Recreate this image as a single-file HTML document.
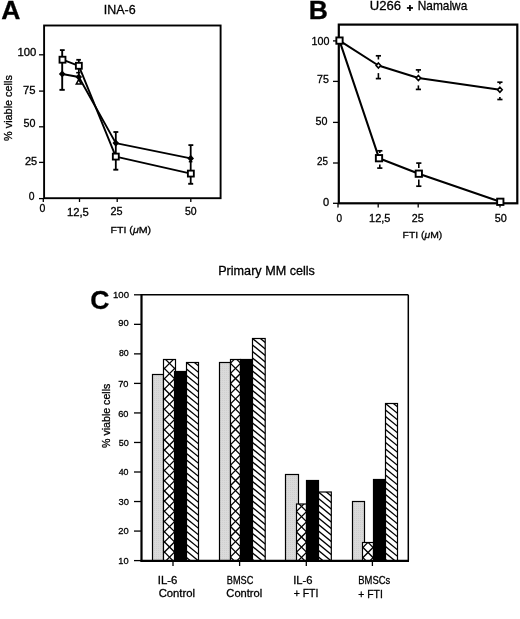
<!DOCTYPE html><html><head><meta charset="utf-8"><style>html,body{margin:0;padding:0;background:#fff;width:520px;height:619px;overflow:hidden}svg{display:block;filter:grayscale(1)}text{font-family:"Liberation Sans", sans-serif;fill:#000;stroke:#000;stroke-width:0.3px}</style></head><body>
<svg width="520" height="619" viewBox="0 0 520 619">
<rect x="0" y="0" width="520" height="619" fill="#fff"/>
<rect x="44.1" y="25.5" width="176.50" height="172.70" fill="none" stroke="#000" stroke-width="1.9"/>
<line x1="39.00" y1="54.80" x2="44.10" y2="54.80" stroke="#000" stroke-width="1.3"/>
<line x1="39.00" y1="91.10" x2="44.10" y2="91.10" stroke="#000" stroke-width="1.3"/>
<line x1="39.00" y1="126.80" x2="44.10" y2="126.80" stroke="#000" stroke-width="1.3"/>
<line x1="39.00" y1="162.40" x2="44.10" y2="162.40" stroke="#000" stroke-width="1.3"/>
<line x1="39.00" y1="198.60" x2="44.10" y2="198.60" stroke="#000" stroke-width="1.3"/>
<line x1="43.30" y1="198.20" x2="43.30" y2="202.00" stroke="#000" stroke-width="1.3"/>
<line x1="79.50" y1="198.20" x2="79.50" y2="202.00" stroke="#000" stroke-width="1.3"/>
<line x1="117.20" y1="198.20" x2="117.20" y2="202.00" stroke="#000" stroke-width="1.3"/>
<line x1="190.80" y1="198.20" x2="190.80" y2="202.00" stroke="#000" stroke-width="1.3"/>
<line x1="62.20" y1="50.10" x2="62.20" y2="89.80" stroke="#000" stroke-width="1.9"/>
<line x1="59.90" y1="50.10" x2="64.70" y2="50.10" stroke="#000" stroke-width="1.8"/>
<line x1="59.45" y1="89.85" x2="64.75" y2="89.85" stroke="#000" stroke-width="1.9"/>
<line x1="78.80" y1="59.80" x2="78.80" y2="83.80" stroke="#000" stroke-width="1.7"/>
<line x1="76.30" y1="59.80" x2="80.90" y2="59.80" stroke="#000" stroke-width="1.8"/>
<line x1="76.20" y1="72.70" x2="80.40" y2="72.70" stroke="#000" stroke-width="1.6"/>
<polygon points="78.7,79.6 81.2,83.9 76.3,83.9" fill="#fff" stroke="#000" stroke-width="1.5"/>
<line x1="115.80" y1="132.00" x2="115.80" y2="169.70" stroke="#000" stroke-width="1.8"/>
<line x1="113.40" y1="132.00" x2="118.30" y2="132.00" stroke="#000" stroke-width="1.8"/>
<line x1="113.30" y1="169.70" x2="118.30" y2="169.70" stroke="#000" stroke-width="1.9"/>
<line x1="190.70" y1="145.10" x2="190.70" y2="183.80" stroke="#000" stroke-width="1.8"/>
<line x1="188.40" y1="145.10" x2="193.30" y2="145.10" stroke="#000" stroke-width="1.8"/>
<line x1="188.20" y1="183.80" x2="193.20" y2="183.80" stroke="#000" stroke-width="1.9"/>
<line x1="188.80" y1="161.70" x2="192.40" y2="161.70" stroke="#000" stroke-width="1.5"/>
<polyline points="62.2,74.0 78.8,77.0 115.8,143.1 190.7,158.4" fill="none" stroke="#000" stroke-width="1.9" stroke-linejoin="round"/>
<polyline points="62.5,59.7 78.85,65.8 115.8,156.6 190.85,173.6" fill="none" stroke="#000" stroke-width="1.9" stroke-linejoin="round"/>
<polygon points="62.2,70.4 65.5,74.0 62.2,77.6 58.900000000000006,74.0" fill="#000"/>
<polygon points="78.8,73.4 82.1,77.0 78.8,80.6 75.5,77.0" fill="#000"/>
<polygon points="115.8,139.5 119.1,143.1 115.8,146.7 112.5,143.1" fill="#000"/>
<polygon points="190.7,154.8 194.0,158.4 190.7,162.0 187.39999999999998,158.4" fill="#000"/>
<rect x="59.52" y="56.73" width="5.95" height="5.95" fill="#fff" stroke="#000" stroke-width="1.85"/>
<rect x="75.88" y="62.82" width="5.95" height="5.95" fill="#fff" stroke="#000" stroke-width="1.85"/>
<rect x="112.83" y="153.62" width="5.95" height="5.95" fill="#fff" stroke="#000" stroke-width="1.85"/>
<rect x="187.88" y="170.62" width="5.95" height="5.95" fill="#fff" stroke="#000" stroke-width="1.85"/>
<rect x="338.8" y="24.6" width="178.50" height="178.70" fill="none" stroke="#000" stroke-width="2.2"/>
<line x1="333.00" y1="40.90" x2="338.80" y2="40.90" stroke="#000" stroke-width="1.3"/>
<line x1="333.00" y1="81.40" x2="338.80" y2="81.40" stroke="#000" stroke-width="1.3"/>
<line x1="333.00" y1="122.40" x2="338.80" y2="122.40" stroke="#000" stroke-width="1.3"/>
<line x1="333.00" y1="163.00" x2="338.80" y2="163.00" stroke="#000" stroke-width="1.3"/>
<line x1="333.00" y1="203.30" x2="338.80" y2="203.30" stroke="#000" stroke-width="1.3"/>
<line x1="338.00" y1="203.30" x2="338.00" y2="207.60" stroke="#000" stroke-width="1.3"/>
<line x1="378.20" y1="203.30" x2="378.20" y2="207.60" stroke="#000" stroke-width="1.3"/>
<line x1="418.20" y1="203.30" x2="418.20" y2="207.60" stroke="#000" stroke-width="1.3"/>
<line x1="500.00" y1="203.30" x2="500.00" y2="207.60" stroke="#000" stroke-width="1.3"/>
<line x1="378.40" y1="55.80" x2="378.40" y2="59.50" stroke="#000" stroke-width="1.6"/>
<line x1="375.80" y1="55.80" x2="381.00" y2="55.80" stroke="#000" stroke-width="1.7"/>
<line x1="378.40" y1="73.10" x2="378.40" y2="78.60" stroke="#000" stroke-width="1.6"/>
<line x1="375.80" y1="78.60" x2="381.00" y2="78.60" stroke="#000" stroke-width="1.7"/>
<line x1="418.40" y1="69.90" x2="418.40" y2="72.70" stroke="#000" stroke-width="1.6"/>
<line x1="415.80" y1="69.90" x2="421.00" y2="69.90" stroke="#000" stroke-width="1.7"/>
<line x1="418.40" y1="85.40" x2="418.40" y2="89.40" stroke="#000" stroke-width="1.6"/>
<line x1="415.80" y1="89.40" x2="421.00" y2="89.40" stroke="#000" stroke-width="1.7"/>
<line x1="499.90" y1="82.20" x2="499.90" y2="84.30" stroke="#000" stroke-width="1.6"/>
<line x1="497.30" y1="82.20" x2="502.50" y2="82.20" stroke="#000" stroke-width="1.7"/>
<line x1="499.90" y1="97.10" x2="499.90" y2="99.50" stroke="#000" stroke-width="1.6"/>
<line x1="497.30" y1="99.50" x2="502.50" y2="99.50" stroke="#000" stroke-width="1.7"/>
<line x1="379.80" y1="150.80" x2="379.80" y2="153.00" stroke="#000" stroke-width="1.6"/>
<line x1="377.20" y1="150.80" x2="382.40" y2="150.80" stroke="#000" stroke-width="1.7"/>
<line x1="379.80" y1="164.50" x2="379.80" y2="168.10" stroke="#000" stroke-width="1.6"/>
<line x1="377.20" y1="168.10" x2="382.40" y2="168.10" stroke="#000" stroke-width="1.7"/>
<line x1="418.80" y1="163.10" x2="418.80" y2="168.00" stroke="#000" stroke-width="1.6"/>
<line x1="416.20" y1="163.10" x2="421.40" y2="163.10" stroke="#000" stroke-width="1.7"/>
<line x1="418.80" y1="179.50" x2="418.80" y2="186.20" stroke="#000" stroke-width="1.6"/>
<line x1="416.20" y1="186.20" x2="421.40" y2="186.20" stroke="#000" stroke-width="1.7"/>
<polyline points="339.5,40.6 378.4,65.5 418.4,78.0 499.9,89.7" fill="none" stroke="#000" stroke-width="2.05" stroke-linejoin="round"/>
<polyline points="339.5,40.6 379.0,158.2 418.8,173.7 500.3,201.8" fill="none" stroke="#000" stroke-width="2.05" stroke-linejoin="round"/>
<polygon points="378.4,63.0 380.7,65.5 378.4,68.0 376.09999999999997,65.5" fill="#fff" stroke="#000" stroke-width="1.6"/>
<polygon points="418.4,75.5 420.7,78.0 418.4,80.5 416.09999999999997,78.0" fill="#fff" stroke="#000" stroke-width="1.6"/>
<polygon points="499.9,87.2 502.2,89.7 499.9,92.2 497.59999999999997,89.7" fill="#fff" stroke="#000" stroke-width="1.6"/>
<rect x="336.35" y="37.45" width="6.30" height="6.30" fill="#fff" stroke="#000" stroke-width="1.9"/>
<rect x="375.85" y="155.05" width="6.30" height="6.30" fill="#fff" stroke="#000" stroke-width="1.9"/>
<rect x="415.65" y="170.55" width="6.30" height="6.30" fill="#fff" stroke="#000" stroke-width="1.9"/>
<rect x="497.15" y="198.65" width="6.30" height="6.30" fill="#fff" stroke="#000" stroke-width="1.9"/>
<defs>
<pattern id="stip" patternUnits="userSpaceOnUse" width="2" height="2"><rect width="2" height="2" fill="#dadada"/><rect width="1" height="1" fill="#cfcfcf"/></pattern>
</defs>
<rect x="152.5" y="374.5" width="11.00" height="186.30" fill="url(#stip)"/>
<rect x="152.5" y="374.5" width="11.00" height="186.30" fill="none" stroke="#000" stroke-width="1.2"/>
<clipPath id="c1"><rect x="163.5" y="359.5" width="12.00" height="201.30"/></clipPath>
<rect x="163.5" y="359.5" width="12.00" height="201.30" fill="#fff"/>
<g clip-path="url(#c1)" stroke="#000" stroke-width="1.25">
<line x1="148.5" y1="311.80" x2="190.5" y2="353.80"/>
<line x1="148.5" y1="353.80" x2="190.5" y2="311.80"/>
<line x1="148.5" y1="322.00" x2="190.5" y2="364.00"/>
<line x1="148.5" y1="364.00" x2="190.5" y2="322.00"/>
<line x1="148.5" y1="332.20" x2="190.5" y2="374.20"/>
<line x1="148.5" y1="374.20" x2="190.5" y2="332.20"/>
<line x1="148.5" y1="342.40" x2="190.5" y2="384.40"/>
<line x1="148.5" y1="384.40" x2="190.5" y2="342.40"/>
<line x1="148.5" y1="352.60" x2="190.5" y2="394.60"/>
<line x1="148.5" y1="394.60" x2="190.5" y2="352.60"/>
<line x1="148.5" y1="362.80" x2="190.5" y2="404.80"/>
<line x1="148.5" y1="404.80" x2="190.5" y2="362.80"/>
<line x1="148.5" y1="373.00" x2="190.5" y2="415.00"/>
<line x1="148.5" y1="415.00" x2="190.5" y2="373.00"/>
<line x1="148.5" y1="383.20" x2="190.5" y2="425.20"/>
<line x1="148.5" y1="425.20" x2="190.5" y2="383.20"/>
<line x1="148.5" y1="393.40" x2="190.5" y2="435.40"/>
<line x1="148.5" y1="435.40" x2="190.5" y2="393.40"/>
<line x1="148.5" y1="403.60" x2="190.5" y2="445.60"/>
<line x1="148.5" y1="445.60" x2="190.5" y2="403.60"/>
<line x1="148.5" y1="413.80" x2="190.5" y2="455.80"/>
<line x1="148.5" y1="455.80" x2="190.5" y2="413.80"/>
<line x1="148.5" y1="424.00" x2="190.5" y2="466.00"/>
<line x1="148.5" y1="466.00" x2="190.5" y2="424.00"/>
<line x1="148.5" y1="434.20" x2="190.5" y2="476.20"/>
<line x1="148.5" y1="476.20" x2="190.5" y2="434.20"/>
<line x1="148.5" y1="444.40" x2="190.5" y2="486.40"/>
<line x1="148.5" y1="486.40" x2="190.5" y2="444.40"/>
<line x1="148.5" y1="454.60" x2="190.5" y2="496.60"/>
<line x1="148.5" y1="496.60" x2="190.5" y2="454.60"/>
<line x1="148.5" y1="464.80" x2="190.5" y2="506.80"/>
<line x1="148.5" y1="506.80" x2="190.5" y2="464.80"/>
<line x1="148.5" y1="475.00" x2="190.5" y2="517.00"/>
<line x1="148.5" y1="517.00" x2="190.5" y2="475.00"/>
<line x1="148.5" y1="485.20" x2="190.5" y2="527.20"/>
<line x1="148.5" y1="527.20" x2="190.5" y2="485.20"/>
<line x1="148.5" y1="495.40" x2="190.5" y2="537.40"/>
<line x1="148.5" y1="537.40" x2="190.5" y2="495.40"/>
<line x1="148.5" y1="505.60" x2="190.5" y2="547.60"/>
<line x1="148.5" y1="547.60" x2="190.5" y2="505.60"/>
<line x1="148.5" y1="515.80" x2="190.5" y2="557.80"/>
<line x1="148.5" y1="557.80" x2="190.5" y2="515.80"/>
<line x1="148.5" y1="526.00" x2="190.5" y2="568.00"/>
<line x1="148.5" y1="568.00" x2="190.5" y2="526.00"/>
<line x1="148.5" y1="536.20" x2="190.5" y2="578.20"/>
<line x1="148.5" y1="578.20" x2="190.5" y2="536.20"/>
<line x1="148.5" y1="546.40" x2="190.5" y2="588.40"/>
<line x1="148.5" y1="588.40" x2="190.5" y2="546.40"/>
<line x1="148.5" y1="556.60" x2="190.5" y2="598.60"/>
<line x1="148.5" y1="598.60" x2="190.5" y2="556.60"/>
</g>
<rect x="163.5" y="359.5" width="12.00" height="201.30" fill="none" stroke="#000" stroke-width="1.2"/>
<rect x="174.5" y="371.5" width="12.00" height="189.30" fill="#000"/>
<rect x="174.5" y="371.5" width="12.00" height="189.30" fill="none" stroke="#000" stroke-width="1.2"/>
<clipPath id="c2"><rect x="186.5" y="362.5" width="12.00" height="198.30"/></clipPath>
<rect x="186.5" y="362.5" width="12.00" height="198.30" fill="#fff"/>
<g clip-path="url(#c2)" stroke="#000" stroke-width="1.35">
<line x1="184.5" y1="334.86" x2="200.5" y2="347.98"/>
<line x1="184.5" y1="341.36" x2="200.5" y2="354.48"/>
<line x1="184.5" y1="347.86" x2="200.5" y2="360.98"/>
<line x1="184.5" y1="354.36" x2="200.5" y2="367.48"/>
<line x1="184.5" y1="360.86" x2="200.5" y2="373.98"/>
<line x1="184.5" y1="367.36" x2="200.5" y2="380.48"/>
<line x1="184.5" y1="373.86" x2="200.5" y2="386.98"/>
<line x1="184.5" y1="380.36" x2="200.5" y2="393.48"/>
<line x1="184.5" y1="386.86" x2="200.5" y2="399.98"/>
<line x1="184.5" y1="393.36" x2="200.5" y2="406.48"/>
<line x1="184.5" y1="399.86" x2="200.5" y2="412.98"/>
<line x1="184.5" y1="406.36" x2="200.5" y2="419.48"/>
<line x1="184.5" y1="412.86" x2="200.5" y2="425.98"/>
<line x1="184.5" y1="419.36" x2="200.5" y2="432.48"/>
<line x1="184.5" y1="425.86" x2="200.5" y2="438.98"/>
<line x1="184.5" y1="432.36" x2="200.5" y2="445.48"/>
<line x1="184.5" y1="438.86" x2="200.5" y2="451.98"/>
<line x1="184.5" y1="445.36" x2="200.5" y2="458.48"/>
<line x1="184.5" y1="451.86" x2="200.5" y2="464.98"/>
<line x1="184.5" y1="458.36" x2="200.5" y2="471.48"/>
<line x1="184.5" y1="464.86" x2="200.5" y2="477.98"/>
<line x1="184.5" y1="471.36" x2="200.5" y2="484.48"/>
<line x1="184.5" y1="477.86" x2="200.5" y2="490.98"/>
<line x1="184.5" y1="484.36" x2="200.5" y2="497.48"/>
<line x1="184.5" y1="490.86" x2="200.5" y2="503.98"/>
<line x1="184.5" y1="497.36" x2="200.5" y2="510.48"/>
<line x1="184.5" y1="503.86" x2="200.5" y2="516.98"/>
<line x1="184.5" y1="510.36" x2="200.5" y2="523.48"/>
<line x1="184.5" y1="516.86" x2="200.5" y2="529.98"/>
<line x1="184.5" y1="523.36" x2="200.5" y2="536.48"/>
<line x1="184.5" y1="529.86" x2="200.5" y2="542.98"/>
<line x1="184.5" y1="536.36" x2="200.5" y2="549.48"/>
<line x1="184.5" y1="542.86" x2="200.5" y2="555.98"/>
<line x1="184.5" y1="549.36" x2="200.5" y2="562.48"/>
<line x1="184.5" y1="555.86" x2="200.5" y2="568.98"/>
<line x1="184.5" y1="562.36" x2="200.5" y2="575.48"/>
</g>
<rect x="186.5" y="362.5" width="12.00" height="198.30" fill="none" stroke="#000" stroke-width="1.2"/>
<rect x="219.5" y="362.5" width="11.00" height="198.30" fill="url(#stip)"/>
<rect x="219.5" y="362.5" width="11.00" height="198.30" fill="none" stroke="#000" stroke-width="1.2"/>
<clipPath id="c3"><rect x="230.5" y="359.5" width="10.00" height="201.30"/></clipPath>
<rect x="230.5" y="359.5" width="10.00" height="201.30" fill="#fff"/>
<g clip-path="url(#c3)" stroke="#000" stroke-width="1.25">
<line x1="215.5" y1="317.70" x2="255.5" y2="357.70"/>
<line x1="215.5" y1="357.70" x2="255.5" y2="317.70"/>
<line x1="215.5" y1="327.90" x2="255.5" y2="367.90"/>
<line x1="215.5" y1="367.90" x2="255.5" y2="327.90"/>
<line x1="215.5" y1="338.10" x2="255.5" y2="378.10"/>
<line x1="215.5" y1="378.10" x2="255.5" y2="338.10"/>
<line x1="215.5" y1="348.30" x2="255.5" y2="388.30"/>
<line x1="215.5" y1="388.30" x2="255.5" y2="348.30"/>
<line x1="215.5" y1="358.50" x2="255.5" y2="398.50"/>
<line x1="215.5" y1="398.50" x2="255.5" y2="358.50"/>
<line x1="215.5" y1="368.70" x2="255.5" y2="408.70"/>
<line x1="215.5" y1="408.70" x2="255.5" y2="368.70"/>
<line x1="215.5" y1="378.90" x2="255.5" y2="418.90"/>
<line x1="215.5" y1="418.90" x2="255.5" y2="378.90"/>
<line x1="215.5" y1="389.10" x2="255.5" y2="429.10"/>
<line x1="215.5" y1="429.10" x2="255.5" y2="389.10"/>
<line x1="215.5" y1="399.30" x2="255.5" y2="439.30"/>
<line x1="215.5" y1="439.30" x2="255.5" y2="399.30"/>
<line x1="215.5" y1="409.50" x2="255.5" y2="449.50"/>
<line x1="215.5" y1="449.50" x2="255.5" y2="409.50"/>
<line x1="215.5" y1="419.70" x2="255.5" y2="459.70"/>
<line x1="215.5" y1="459.70" x2="255.5" y2="419.70"/>
<line x1="215.5" y1="429.90" x2="255.5" y2="469.90"/>
<line x1="215.5" y1="469.90" x2="255.5" y2="429.90"/>
<line x1="215.5" y1="440.10" x2="255.5" y2="480.10"/>
<line x1="215.5" y1="480.10" x2="255.5" y2="440.10"/>
<line x1="215.5" y1="450.30" x2="255.5" y2="490.30"/>
<line x1="215.5" y1="490.30" x2="255.5" y2="450.30"/>
<line x1="215.5" y1="460.50" x2="255.5" y2="500.50"/>
<line x1="215.5" y1="500.50" x2="255.5" y2="460.50"/>
<line x1="215.5" y1="470.70" x2="255.5" y2="510.70"/>
<line x1="215.5" y1="510.70" x2="255.5" y2="470.70"/>
<line x1="215.5" y1="480.90" x2="255.5" y2="520.90"/>
<line x1="215.5" y1="520.90" x2="255.5" y2="480.90"/>
<line x1="215.5" y1="491.10" x2="255.5" y2="531.10"/>
<line x1="215.5" y1="531.10" x2="255.5" y2="491.10"/>
<line x1="215.5" y1="501.30" x2="255.5" y2="541.30"/>
<line x1="215.5" y1="541.30" x2="255.5" y2="501.30"/>
<line x1="215.5" y1="511.50" x2="255.5" y2="551.50"/>
<line x1="215.5" y1="551.50" x2="255.5" y2="511.50"/>
<line x1="215.5" y1="521.70" x2="255.5" y2="561.70"/>
<line x1="215.5" y1="561.70" x2="255.5" y2="521.70"/>
<line x1="215.5" y1="531.90" x2="255.5" y2="571.90"/>
<line x1="215.5" y1="571.90" x2="255.5" y2="531.90"/>
<line x1="215.5" y1="542.10" x2="255.5" y2="582.10"/>
<line x1="215.5" y1="582.10" x2="255.5" y2="542.10"/>
<line x1="215.5" y1="552.30" x2="255.5" y2="592.30"/>
<line x1="215.5" y1="592.30" x2="255.5" y2="552.30"/>
</g>
<rect x="230.5" y="359.5" width="10.00" height="201.30" fill="none" stroke="#000" stroke-width="1.2"/>
<rect x="240.5" y="359.5" width="12.00" height="201.30" fill="#000"/>
<rect x="240.5" y="359.5" width="12.00" height="201.30" fill="none" stroke="#000" stroke-width="1.2"/>
<clipPath id="c4"><rect x="252.5" y="338.5" width="12.70" height="222.30"/></clipPath>
<rect x="252.5" y="338.5" width="12.70" height="222.30" fill="#fff"/>
<g clip-path="url(#c4)" stroke="#000" stroke-width="1.35">
<line x1="250.5" y1="310.86" x2="267.2" y2="324.55"/>
<line x1="250.5" y1="317.36" x2="267.2" y2="331.05"/>
<line x1="250.5" y1="323.86" x2="267.2" y2="337.55"/>
<line x1="250.5" y1="330.36" x2="267.2" y2="344.05"/>
<line x1="250.5" y1="336.86" x2="267.2" y2="350.55"/>
<line x1="250.5" y1="343.36" x2="267.2" y2="357.05"/>
<line x1="250.5" y1="349.86" x2="267.2" y2="363.55"/>
<line x1="250.5" y1="356.36" x2="267.2" y2="370.05"/>
<line x1="250.5" y1="362.86" x2="267.2" y2="376.55"/>
<line x1="250.5" y1="369.36" x2="267.2" y2="383.05"/>
<line x1="250.5" y1="375.86" x2="267.2" y2="389.55"/>
<line x1="250.5" y1="382.36" x2="267.2" y2="396.05"/>
<line x1="250.5" y1="388.86" x2="267.2" y2="402.55"/>
<line x1="250.5" y1="395.36" x2="267.2" y2="409.05"/>
<line x1="250.5" y1="401.86" x2="267.2" y2="415.55"/>
<line x1="250.5" y1="408.36" x2="267.2" y2="422.05"/>
<line x1="250.5" y1="414.86" x2="267.2" y2="428.55"/>
<line x1="250.5" y1="421.36" x2="267.2" y2="435.05"/>
<line x1="250.5" y1="427.86" x2="267.2" y2="441.55"/>
<line x1="250.5" y1="434.36" x2="267.2" y2="448.05"/>
<line x1="250.5" y1="440.86" x2="267.2" y2="454.55"/>
<line x1="250.5" y1="447.36" x2="267.2" y2="461.05"/>
<line x1="250.5" y1="453.86" x2="267.2" y2="467.55"/>
<line x1="250.5" y1="460.36" x2="267.2" y2="474.05"/>
<line x1="250.5" y1="466.86" x2="267.2" y2="480.55"/>
<line x1="250.5" y1="473.36" x2="267.2" y2="487.05"/>
<line x1="250.5" y1="479.86" x2="267.2" y2="493.55"/>
<line x1="250.5" y1="486.36" x2="267.2" y2="500.05"/>
<line x1="250.5" y1="492.86" x2="267.2" y2="506.55"/>
<line x1="250.5" y1="499.36" x2="267.2" y2="513.05"/>
<line x1="250.5" y1="505.86" x2="267.2" y2="519.55"/>
<line x1="250.5" y1="512.36" x2="267.2" y2="526.05"/>
<line x1="250.5" y1="518.86" x2="267.2" y2="532.55"/>
<line x1="250.5" y1="525.36" x2="267.2" y2="539.05"/>
<line x1="250.5" y1="531.86" x2="267.2" y2="545.55"/>
<line x1="250.5" y1="538.36" x2="267.2" y2="552.05"/>
<line x1="250.5" y1="544.86" x2="267.2" y2="558.55"/>
<line x1="250.5" y1="551.36" x2="267.2" y2="565.05"/>
<line x1="250.5" y1="557.86" x2="267.2" y2="571.55"/>
</g>
<rect x="252.5" y="338.5" width="12.70" height="222.30" fill="none" stroke="#000" stroke-width="1.2"/>
<rect x="285.5" y="474.5" width="13.00" height="86.30" fill="url(#stip)"/>
<rect x="285.5" y="474.5" width="13.00" height="86.30" fill="none" stroke="#000" stroke-width="1.2"/>
<clipPath id="c5"><rect x="296.5" y="504.0" width="10.00" height="56.80"/></clipPath>
<rect x="296.5" y="504.0" width="10.00" height="56.80" fill="#fff"/>
<g clip-path="url(#c5)" stroke="#000" stroke-width="1.25">
<line x1="281.5" y1="455.80" x2="321.5" y2="495.80"/>
<line x1="281.5" y1="495.80" x2="321.5" y2="455.80"/>
<line x1="281.5" y1="466.00" x2="321.5" y2="506.00"/>
<line x1="281.5" y1="506.00" x2="321.5" y2="466.00"/>
<line x1="281.5" y1="476.20" x2="321.5" y2="516.20"/>
<line x1="281.5" y1="516.20" x2="321.5" y2="476.20"/>
<line x1="281.5" y1="486.40" x2="321.5" y2="526.40"/>
<line x1="281.5" y1="526.40" x2="321.5" y2="486.40"/>
<line x1="281.5" y1="496.60" x2="321.5" y2="536.60"/>
<line x1="281.5" y1="536.60" x2="321.5" y2="496.60"/>
<line x1="281.5" y1="506.80" x2="321.5" y2="546.80"/>
<line x1="281.5" y1="546.80" x2="321.5" y2="506.80"/>
<line x1="281.5" y1="517.00" x2="321.5" y2="557.00"/>
<line x1="281.5" y1="557.00" x2="321.5" y2="517.00"/>
<line x1="281.5" y1="527.20" x2="321.5" y2="567.20"/>
<line x1="281.5" y1="567.20" x2="321.5" y2="527.20"/>
<line x1="281.5" y1="537.40" x2="321.5" y2="577.40"/>
<line x1="281.5" y1="577.40" x2="321.5" y2="537.40"/>
<line x1="281.5" y1="547.60" x2="321.5" y2="587.60"/>
<line x1="281.5" y1="587.60" x2="321.5" y2="547.60"/>
<line x1="281.5" y1="557.80" x2="321.5" y2="597.80"/>
<line x1="281.5" y1="597.80" x2="321.5" y2="557.80"/>
</g>
<rect x="296.5" y="504.0" width="10.00" height="56.80" fill="none" stroke="#000" stroke-width="1.2"/>
<rect x="306.5" y="480.5" width="12.00" height="80.30" fill="#000"/>
<rect x="306.5" y="480.5" width="12.00" height="80.30" fill="none" stroke="#000" stroke-width="1.2"/>
<clipPath id="c6"><rect x="318.5" y="492.0" width="12.80" height="68.80"/></clipPath>
<rect x="318.5" y="492.0" width="12.80" height="68.80" fill="#fff"/>
<g clip-path="url(#c6)" stroke="#000" stroke-width="1.35">
<line x1="316.5" y1="464.36" x2="333.3" y2="478.14"/>
<line x1="316.5" y1="470.86" x2="333.3" y2="484.64"/>
<line x1="316.5" y1="477.36" x2="333.3" y2="491.14"/>
<line x1="316.5" y1="483.86" x2="333.3" y2="497.64"/>
<line x1="316.5" y1="490.36" x2="333.3" y2="504.14"/>
<line x1="316.5" y1="496.86" x2="333.3" y2="510.64"/>
<line x1="316.5" y1="503.36" x2="333.3" y2="517.14"/>
<line x1="316.5" y1="509.86" x2="333.3" y2="523.64"/>
<line x1="316.5" y1="516.36" x2="333.3" y2="530.14"/>
<line x1="316.5" y1="522.86" x2="333.3" y2="536.64"/>
<line x1="316.5" y1="529.36" x2="333.3" y2="543.14"/>
<line x1="316.5" y1="535.86" x2="333.3" y2="549.64"/>
<line x1="316.5" y1="542.36" x2="333.3" y2="556.14"/>
<line x1="316.5" y1="548.86" x2="333.3" y2="562.64"/>
<line x1="316.5" y1="555.36" x2="333.3" y2="569.14"/>
<line x1="316.5" y1="561.86" x2="333.3" y2="575.64"/>
</g>
<rect x="318.5" y="492.0" width="12.80" height="68.80" fill="none" stroke="#000" stroke-width="1.2"/>
<rect x="352.5" y="501.5" width="12.00" height="59.30" fill="url(#stip)"/>
<rect x="352.5" y="501.5" width="12.00" height="59.30" fill="none" stroke="#000" stroke-width="1.2"/>
<clipPath id="c7"><rect x="362.5" y="542.5" width="11.00" height="18.30"/></clipPath>
<rect x="362.5" y="542.5" width="11.00" height="18.30" fill="#fff"/>
<g clip-path="url(#c7)" stroke="#000" stroke-width="1.25">
<line x1="347.5" y1="501.40" x2="388.5" y2="542.40"/>
<line x1="347.5" y1="542.40" x2="388.5" y2="501.40"/>
<line x1="347.5" y1="511.60" x2="388.5" y2="552.60"/>
<line x1="347.5" y1="552.60" x2="388.5" y2="511.60"/>
<line x1="347.5" y1="521.80" x2="388.5" y2="562.80"/>
<line x1="347.5" y1="562.80" x2="388.5" y2="521.80"/>
<line x1="347.5" y1="532.00" x2="388.5" y2="573.00"/>
<line x1="347.5" y1="573.00" x2="388.5" y2="532.00"/>
<line x1="347.5" y1="542.20" x2="388.5" y2="583.20"/>
<line x1="347.5" y1="583.20" x2="388.5" y2="542.20"/>
<line x1="347.5" y1="552.40" x2="388.5" y2="593.40"/>
<line x1="347.5" y1="593.40" x2="388.5" y2="552.40"/>
</g>
<rect x="362.5" y="542.5" width="11.00" height="18.30" fill="none" stroke="#000" stroke-width="1.2"/>
<rect x="373.5" y="479.5" width="12.00" height="81.30" fill="#000"/>
<rect x="373.5" y="479.5" width="12.00" height="81.30" fill="none" stroke="#000" stroke-width="1.2"/>
<clipPath id="c8"><rect x="385.5" y="403.5" width="12.00" height="157.30"/></clipPath>
<rect x="385.5" y="403.5" width="12.00" height="157.30" fill="#fff"/>
<g clip-path="url(#c8)" stroke="#000" stroke-width="1.35">
<line x1="383.5" y1="375.86" x2="399.5" y2="388.98"/>
<line x1="383.5" y1="382.36" x2="399.5" y2="395.48"/>
<line x1="383.5" y1="388.86" x2="399.5" y2="401.98"/>
<line x1="383.5" y1="395.36" x2="399.5" y2="408.48"/>
<line x1="383.5" y1="401.86" x2="399.5" y2="414.98"/>
<line x1="383.5" y1="408.36" x2="399.5" y2="421.48"/>
<line x1="383.5" y1="414.86" x2="399.5" y2="427.98"/>
<line x1="383.5" y1="421.36" x2="399.5" y2="434.48"/>
<line x1="383.5" y1="427.86" x2="399.5" y2="440.98"/>
<line x1="383.5" y1="434.36" x2="399.5" y2="447.48"/>
<line x1="383.5" y1="440.86" x2="399.5" y2="453.98"/>
<line x1="383.5" y1="447.36" x2="399.5" y2="460.48"/>
<line x1="383.5" y1="453.86" x2="399.5" y2="466.98"/>
<line x1="383.5" y1="460.36" x2="399.5" y2="473.48"/>
<line x1="383.5" y1="466.86" x2="399.5" y2="479.98"/>
<line x1="383.5" y1="473.36" x2="399.5" y2="486.48"/>
<line x1="383.5" y1="479.86" x2="399.5" y2="492.98"/>
<line x1="383.5" y1="486.36" x2="399.5" y2="499.48"/>
<line x1="383.5" y1="492.86" x2="399.5" y2="505.98"/>
<line x1="383.5" y1="499.36" x2="399.5" y2="512.48"/>
<line x1="383.5" y1="505.86" x2="399.5" y2="518.98"/>
<line x1="383.5" y1="512.36" x2="399.5" y2="525.48"/>
<line x1="383.5" y1="518.86" x2="399.5" y2="531.98"/>
<line x1="383.5" y1="525.36" x2="399.5" y2="538.48"/>
<line x1="383.5" y1="531.86" x2="399.5" y2="544.98"/>
<line x1="383.5" y1="538.36" x2="399.5" y2="551.48"/>
<line x1="383.5" y1="544.86" x2="399.5" y2="557.98"/>
<line x1="383.5" y1="551.36" x2="399.5" y2="564.48"/>
<line x1="383.5" y1="557.86" x2="399.5" y2="570.98"/>
</g>
<rect x="385.5" y="403.5" width="12.00" height="157.30" fill="none" stroke="#000" stroke-width="1.2"/>
<line x1="141.50" y1="294.80" x2="408.30" y2="294.80" stroke="#000" stroke-width="1.5"/>
<line x1="408.30" y1="294.80" x2="408.30" y2="560.80" stroke="#000" stroke-width="1.5"/>
<line x1="141.50" y1="294.10" x2="141.50" y2="561.80" stroke="#000" stroke-width="2.2"/>
<line x1="140.50" y1="560.80" x2="409.00" y2="560.80" stroke="#000" stroke-width="2.2"/>
<line x1="134.00" y1="560.60" x2="141.50" y2="560.60" stroke="#000" stroke-width="1.3"/>
<line x1="134.00" y1="531.07" x2="141.50" y2="531.07" stroke="#000" stroke-width="1.3"/>
<line x1="134.00" y1="501.53" x2="141.50" y2="501.53" stroke="#000" stroke-width="1.3"/>
<line x1="134.00" y1="472.00" x2="141.50" y2="472.00" stroke="#000" stroke-width="1.3"/>
<line x1="134.00" y1="442.47" x2="141.50" y2="442.47" stroke="#000" stroke-width="1.3"/>
<line x1="134.00" y1="412.94" x2="141.50" y2="412.94" stroke="#000" stroke-width="1.3"/>
<line x1="134.00" y1="383.40" x2="141.50" y2="383.40" stroke="#000" stroke-width="1.3"/>
<line x1="134.00" y1="353.87" x2="141.50" y2="353.87" stroke="#000" stroke-width="1.3"/>
<line x1="134.00" y1="324.34" x2="141.50" y2="324.34" stroke="#000" stroke-width="1.3"/>
<line x1="134.00" y1="294.80" x2="141.50" y2="294.80" stroke="#000" stroke-width="1.3"/>
<line x1="173.00" y1="560.80" x2="173.00" y2="566.00" stroke="#000" stroke-width="1.3"/>
<line x1="239.60" y1="560.80" x2="239.60" y2="566.00" stroke="#000" stroke-width="1.3"/>
<line x1="306.30" y1="560.80" x2="306.30" y2="566.00" stroke="#000" stroke-width="1.3"/>
<line x1="372.40" y1="560.80" x2="372.40" y2="566.00" stroke="#000" stroke-width="1.3"/>
<line x1="406.90" y1="7.95" x2="413.00" y2="7.95" stroke="#000" stroke-width="1.7"/>
<line x1="409.95" y1="4.90" x2="409.95" y2="11.00" stroke="#000" stroke-width="1.7"/>
<text x="1.20" y="18.59" font-size="26.5" font-weight="bold">A</text>
<text x="103.74" y="13.80" font-size="13.4" stroke-width="0.7" textLength="31.89" lengthAdjust="spacingAndGlyphs">INA-6</text>
<text x="17.43" y="56.30" font-size="10.7" stroke-width="0.12" textLength="18.89" lengthAdjust="spacingAndGlyphs">100</text>
<text x="23.00" y="93.77" font-size="10.7" stroke-width="0.12" textLength="12.54" lengthAdjust="spacingAndGlyphs">75</text>
<text x="23.48" y="127.21" font-size="10.7" stroke-width="0.12" textLength="11.93" lengthAdjust="spacingAndGlyphs">50</text>
<text x="24.95" y="164.60" font-size="10.7" stroke-width="0.12" textLength="12.19" lengthAdjust="spacingAndGlyphs">25</text>
<text x="28.76" y="200.34" font-size="10.7" stroke-width="0.12" textLength="5.76" lengthAdjust="spacingAndGlyphs">0</text>
<text x="39.62" y="211.58" font-size="10.7" stroke-width="0.12" textLength="5.86" lengthAdjust="spacingAndGlyphs">0</text>
<text x="66.99" y="216.48" font-size="10.7" stroke-width="0.12" textLength="21.88" lengthAdjust="spacingAndGlyphs">12,5</text>
<text x="110.48" y="215.20" font-size="10.7" stroke-width="0.12" textLength="12.09" lengthAdjust="spacingAndGlyphs">25</text>
<text x="184.96" y="215.18" font-size="10.7" stroke-width="0.12" textLength="11.64" lengthAdjust="spacingAndGlyphs">50</text>
<text x="110.41" y="232.78" font-size="9.9" textLength="40.75" lengthAdjust="spacingAndGlyphs">FTI (<tspan font-style="italic">μ</tspan>M)</text>
<text transform="translate(11.60,140.94) rotate(-90)" font-size="11" textLength="65.78" lengthAdjust="spacingAndGlyphs">% viable cells</text>
<text x="308.78" y="19.10" font-size="26.5" font-weight="bold">B</text>
<text x="369.85" y="10.22" font-size="13.2" stroke-width="0.7" textLength="31.26" lengthAdjust="spacingAndGlyphs">U266</text>
<text x="417.77" y="10.24" font-size="13.2" stroke-width="0.7" textLength="49.52" lengthAdjust="spacingAndGlyphs">Namalwa</text>
<text x="311.57" y="44.61" font-size="10.7" stroke-width="0.12" textLength="17.89" lengthAdjust="spacingAndGlyphs">100</text>
<text x="317.00" y="83.44" font-size="10.7" stroke-width="0.12" textLength="11.84" lengthAdjust="spacingAndGlyphs">75</text>
<text x="315.48" y="125.21" font-size="10.7" stroke-width="0.12" textLength="11.93" lengthAdjust="spacingAndGlyphs">50</text>
<text x="317.11" y="164.70" font-size="10.7" stroke-width="0.12" textLength="10.95" lengthAdjust="spacingAndGlyphs">25</text>
<text x="323.13" y="206.17" font-size="10.7" stroke-width="0.12" textLength="6.14" lengthAdjust="spacingAndGlyphs">0</text>
<text x="336.62" y="222.09" font-size="10.7" stroke-width="0.12" textLength="5.57" lengthAdjust="spacingAndGlyphs">0</text>
<text x="369.04" y="221.78" font-size="10.7" stroke-width="0.12" textLength="21.34" lengthAdjust="spacingAndGlyphs">12,5</text>
<text x="411.69" y="222.00" font-size="10.7" stroke-width="0.12" textLength="11.94" lengthAdjust="spacingAndGlyphs">25</text>
<text x="494.66" y="221.93" font-size="10.7" stroke-width="0.12" textLength="12.06" lengthAdjust="spacingAndGlyphs">50</text>
<text x="402.55" y="237.85" font-size="9.9" textLength="39.71" lengthAdjust="spacingAndGlyphs">FTI (<tspan font-style="italic">μ</tspan>M)</text>
<text x="218.19" y="274.90" font-size="12.8" stroke-width="0.6" textLength="96.71" lengthAdjust="spacingAndGlyphs">Primary MM cells</text>
<text x="90.20" y="309.13" font-size="26.5" font-weight="bold">C</text>
<text transform="translate(109.50,447.95) rotate(-90)" font-size="10.6" textLength="64.32" lengthAdjust="spacingAndGlyphs">% viable cells</text>
<text x="157.82" y="584.04" font-size="11" textLength="19.67" lengthAdjust="spacingAndGlyphs">IL-6</text>
<text x="158.65" y="597.08" font-size="11" textLength="36.41" lengthAdjust="spacingAndGlyphs">Control</text>
<text x="226.82" y="583.50" font-size="11" textLength="26.56" lengthAdjust="spacingAndGlyphs">BMSC</text>
<text x="226.37" y="596.95" font-size="11" textLength="35.81" lengthAdjust="spacingAndGlyphs">Control</text>
<text x="293.25" y="584.39" font-size="11" textLength="19.34" lengthAdjust="spacingAndGlyphs">IL-6</text>
<text x="293.66" y="597.14" font-size="11" textLength="24.70" lengthAdjust="spacingAndGlyphs">+ FTI</text>
<text x="358.34" y="583.50" font-size="11" textLength="31.96" lengthAdjust="spacingAndGlyphs">BMSCs</text>
<text x="358.32" y="597.91" font-size="11" textLength="24.46" lengthAdjust="spacingAndGlyphs">+ FTI</text>
<text x="118.29" y="563.87" font-size="9.8" stroke="none" textLength="10.31" lengthAdjust="spacingAndGlyphs">10</text>
<text x="118.23" y="534.48" font-size="9.8" stroke="none" textLength="10.40" lengthAdjust="spacingAndGlyphs">20</text>
<text x="118.47" y="504.71" font-size="9.8" stroke="none" textLength="10.38" lengthAdjust="spacingAndGlyphs">30</text>
<text x="118.67" y="474.64" font-size="9.8" stroke="none" textLength="9.87" lengthAdjust="spacingAndGlyphs">40</text>
<text x="118.82" y="445.64" font-size="9.8" stroke="none" textLength="10.08" lengthAdjust="spacingAndGlyphs">50</text>
<text x="118.18" y="416.67" font-size="9.8" stroke="none" textLength="10.27" lengthAdjust="spacingAndGlyphs">60</text>
<text x="118.21" y="387.48" font-size="9.8" stroke="none" textLength="10.26" lengthAdjust="spacingAndGlyphs">70</text>
<text x="118.90" y="356.39" font-size="9.8" stroke="none" textLength="9.78" lengthAdjust="spacingAndGlyphs">80</text>
<text x="118.20" y="326.19" font-size="9.8" stroke="none" textLength="10.40" lengthAdjust="spacingAndGlyphs">90</text>
<text x="113.00" y="297.84" font-size="9.8" stroke="none" textLength="15.99" lengthAdjust="spacingAndGlyphs">100</text>
</svg></body></html>
